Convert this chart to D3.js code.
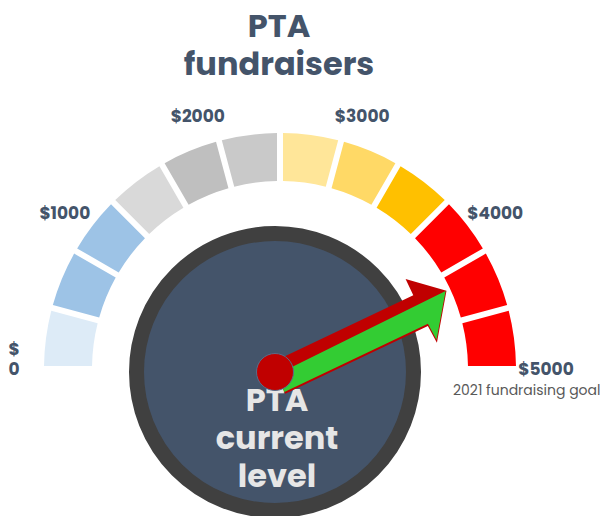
<!DOCTYPE html>
<html lang="en">
  <head>
    <meta charset="UTF-8" />
    <title>PTA fundraisers gauge</title>
    <script src="https://d3js.org/d3.v7.min.js"></script>
    <style>
      body { margin: 0; background: #fff; }
      text { font-family: Poppins, "Open Sans", sans-serif; }
    </style>
  </head>
  <body>
    <svg width="609" height="516"></svg>

    <script>
      // Data
      const segmentColors = [
        "#ddebf7", "#9dc3e6", "#9dc3e6",
        "#d9d9d9", "#bfbfbf", "#c9c9c9",
        "#ffe699", "#ffd966", "#ffc000",
        "#ff0000", "#ff0000", "#ff0000",
      ];
      const tickValues = [0, 1000, 2000, 3000, 4000, 5000];
      const tickLabels = ["$ 0", "$1000", "$2000", "$3000", "$4000", "$5000"];
      const currentValue = 4300;
      const goalLabel = "2021 fundraising goal";
      const titleLines = ["PTA", "fundraisers"];
      const dialLines = ["PTA", "current", "level"];

      const svg = d3.select("svg");
      const slate = "#44546a";

      // Gauge geometry
      const center = { x: 280, y: 369 };
      const innerR = 188;
      const outerR = 236;
      const dial = { x: 275, y: 372, r: 146, ring: 15 };

      // value -> angle (d3.arc convention: 0 at top, clockwise)
      const angle = d3.scaleLinear().domain([0, 5000]).range([-Math.PI / 2, Math.PI / 2]);
      const segStep = 5000 / segmentColors.length;

      // Title
      svg.append("g")
        .selectAll("text")
        .data(titleLines)
        .join("text")
        .attr("x", 279)
        .attr("y", (d, i) => 37 + i * 38)
        .attr("text-anchor", "middle")
        .style("font-size", "32px")
        .style("font-weight", "bold")
        .style("fill", slate)
        .text((d) => d);

      // Segments
      const arc = d3.arc()
        .innerRadius(innerR)
        .outerRadius(outerR)
        .padAngle(0.06)
        .padRadius(100);

      svg.append("g")
        .attr("transform", `translate(${center.x},${center.y})`)
        .selectAll("path")
        .data(segmentColors)
        .join("path")
        .attr("d", (d, i) => arc({
          startAngle: angle(i * segStep),
          endAngle: angle((i + 1) * segStep),
        }))
        .style("fill", (d) => d);

      // Tick labels
      const labelR = 266;
      svg.append("g")
        .selectAll("text")
        .data(tickValues)
        .join("text")
        .attr("transform", (d) => {
          const a = angle(d);
          return `translate(${center.x + Math.sin(a) * labelR},${center.y - Math.cos(a) * labelR})`;
        })
        .attr("text-anchor", "middle")
        .style("font-size", "17px")
        .style("font-weight", "bold")
        .style("fill", slate)
        .each(function (d, i) {
          const lines = tickLabels[i].split(" ");
          d3.select(this)
            .selectAll("tspan")
            .data(lines)
            .join("tspan")
            .attr("x", 0)
            .attr("y", (l, j) => (j - (lines.length - 1)) * 20 + 6)
            .text((l) => l);
        });

      svg.append("text")
        .attr("x", 453)
        .attr("y", 395)
        .style("font-size", "14px")
        .style("fill", "#595959")
        .text(goalLabel);

      // Dial
      svg.append("circle")
        .attr("cx", dial.x)
        .attr("cy", dial.y)
        .attr("r", dial.r - dial.ring / 2)
        .style("fill", slate)
        .style("stroke", "#404040")
        .style("stroke-width", dial.ring);

      svg.append("g")
        .selectAll("text")
        .data(dialLines)
        .join("text")
        .attr("x", 277)
        .attr("y", (d, i) => 411 + i * 38)
        .attr("text-anchor", "middle")
        .style("font-size", "32px")
        .style("font-weight", "bold")
        .style("fill", "#e6e6e6")
        .text((d) => d);

      // Needle
      const a = angle(currentValue);
      const tip = {
        x: center.x + Math.sin(a) * (innerR - 4),
        y: center.y - Math.cos(a) * (innerR - 4),
      };
      const len = Math.hypot(tip.x - dial.x, tip.y - dial.y);
      const rot = Math.atan2(tip.y - dial.y, tip.x - dial.x) * 180 / Math.PI;
      const head = 32;

      const needle = svg.append("g")
        .attr("transform", `translate(${dial.x},${dial.y}) rotate(${rot})`);

      const line = d3.line();
      // y positive = below the axis
      needle.append("path")
        .attr("d", line([
          [0, -10], [len - head, -10], [len - head, -28], [len, 0],
          [len - head + 1, 43], [len - head, 24], [0, 24],
        ]) + "Z")
        .style("fill", "#c00000");

      needle.append("path")
        .attr("d", line([
          [0, 3], [len - 1, 0], [len - head + 2, 40], [len - head + 1, 22], [0, 22],
        ]) + "Z")
        .style("fill", "#33cc33");

      svg.append("circle")
        .attr("cx", dial.x)
        .attr("cy", dial.y)
        .attr("r", 18.5)
        .style("fill", "#c00000")
        .style("stroke", "#5a6b87")
        .style("stroke-width", 1);
    </script>
  </body>
</html>
